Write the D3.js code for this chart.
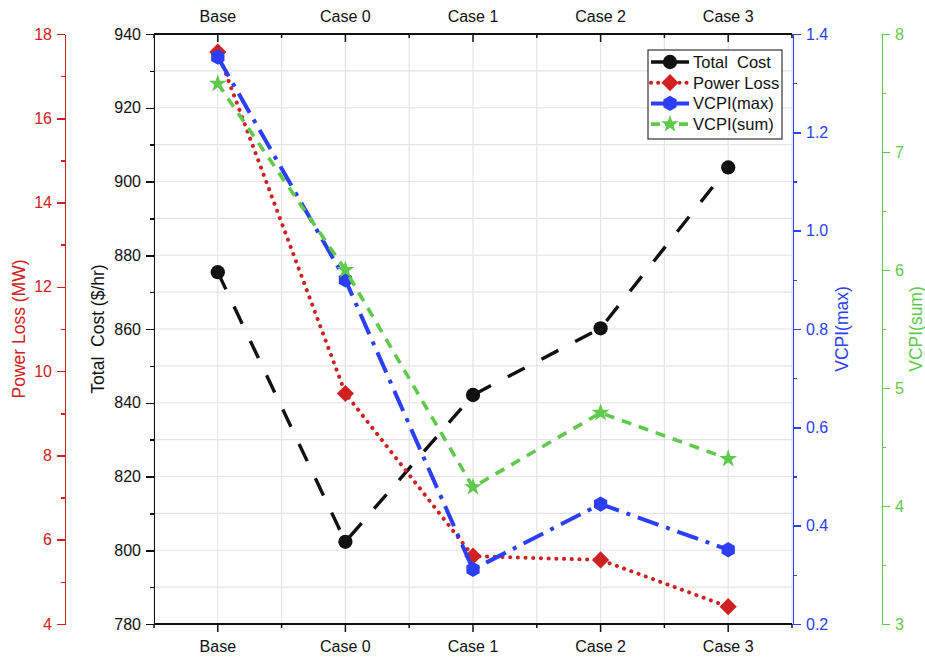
<!DOCTYPE html>
<html>
<head>
<meta charset="utf-8">
<script src="https://cdn.jsdelivr.net/npm/d3@7/dist/d3.min.js"></script>
<style>
  html, body { margin: 0; padding: 0; background: #fff; }
  svg { display: block; font-family: "Liberation Sans", Arial, sans-serif; }
  .axis path, .axis line { shape-rendering: crispEdges; }
</style>
</head>
<body>
<svg id="chart" width="925" height="658"></svg>
<script>
// Scenario labels
const categories = ["Base", "Case 0", "Case 1", "Case 2", "Case 3"];

// Series values per scenario
const totalCost = [875.4, 802.3, 842.1, 860.2, 903.8];   // $/hr
const powerLoss = [17.57, 9.47, 5.61, 5.52, 4.41];       // MW
const vcpiMax   = [1.353, 0.90, 0.311, 0.444, 0.351];
const vcpiSum   = [7.58, 6.0, 4.16, 4.79, 4.40];

// Axis tick values
const costTicks     = [780, 800, 820, 840, 860, 880, 900, 920, 940];
const costMinor     = [790, 810, 830, 850, 870, 890, 910, 930];
const lossTicks     = [4, 6, 8, 10, 12, 14, 16, 18];
const lossMinor     = [5, 7, 9, 11, 13, 15, 17];
const vcpiMaxTicks  = [0.2, 0.4, 0.6, 0.8, 1.0, 1.2, 1.4];
const vcpiMaxMinor  = [0.3, 0.5, 0.7, 0.9, 1.1, 1.3];
const vcpiSumTicks  = [3, 4, 5, 6, 7, 8];
const vcpiSumMinor  = [3.5, 4.5, 5.5, 6.5, 7.5];

const BLACK = "#111111", RED = "#d02121", BLUE = "#2a3ff7", GREEN = "#5fc94c";

const svg = d3.select("#chart");
const L = 154, R = 792, T = 34, B = 624;

const x = d3.scalePoint().domain(categories).range([L, R]).padding(0.5);
const step = x.step();
const yCost = d3.scaleLinear().domain([780, 940]).range([B, T]);
const yLoss = d3.scaleLinear().domain([4, 18]).range([B, T]);
const yVmax = d3.scaleLinear().domain([0.2, 1.4]).range([B, T]);
const yVsum = d3.scaleLinear().domain([3, 8]).range([B, T]);

// Grid: horizontal every 10 $/hr, vertical at categories and between them
const gridX = [];
categories.forEach(c => { gridX.push(x(c) - step / 2); gridX.push(x(c)); });
gridX.push(R);
const grid = svg.append("g").attr("stroke", "#e4e4e4").attr("stroke-width", 1.2);
grid.selectAll(".gh").data(costTicks.concat(costMinor)).join("line")
  .attr("x1", L).attr("x2", R)
  .attr("y1", d => yCost(d)).attr("y2", d => yCost(d));
grid.selectAll(".gv").data(gridX).join("line")
  .attr("x1", d => d).attr("x2", d => d)
  .attr("y1", T).attr("y2", B);

// Helper: draw an axis with major (labelled) and minor ticks
function drawAxis(gen, scale, major, minor, tx, ty, color, majorLen, minorLen, pad, fmt) {
  const gMinor = svg.append("g").attr("class", "axis").attr("transform", `translate(${tx},${ty})`)
    .call(gen(scale).tickValues(minor).tickSize(minorLen).tickFormat(""));
  gMinor.select(".domain").remove();
  gMinor.selectAll("line").attr("stroke", color).attr("stroke-width", 1.5);
  const g = svg.append("g").attr("class", "axis").attr("transform", `translate(${tx},${ty})`)
    .call(gen(scale).tickValues(major).tickSizeInner(majorLen).tickSizeOuter(0).tickPadding(pad)
      .tickFormat(fmt || (d => d)));
  g.select(".domain").attr("stroke", color).attr("stroke-width", 1.8);
  g.selectAll("line").attr("stroke", color).attr("stroke-width", 1.5);
  g.selectAll("text").attr("fill", color).attr("font-size", 16)
    .attr("font-family", "'Liberation Sans', Arial, sans-serif");
  return g;
}

// Category axes (bottom and top); ticks hang downward on both
const xMinor = categories.map(c => x(c) - step / 2).concat([R]);
function catAxisLines(yPos, dir) {
  const g = svg.append("g");
  g.append("line").attr("x1", L).attr("x2", R).attr("y1", yPos).attr("y2", yPos)
    .attr("stroke", BLACK).attr("stroke-width", 1.8);
  g.selectAll(".mj").data(categories).join("line")
    .attr("x1", d => x(d)).attr("x2", d => x(d))
    .attr("y1", yPos).attr("y2", yPos + 8 * dir)
    .attr("stroke", BLACK).attr("stroke-width", 1.5);
  g.selectAll(".mn").data(xMinor).join("line")
    .attr("x1", d => d).attr("x2", d => d)
    .attr("y1", yPos).attr("y2", yPos + 4 * dir)
    .attr("stroke", BLACK).attr("stroke-width", 1.5);
}
catAxisLines(B, 1);
catAxisLines(T, 1);
svg.append("g").selectAll("text").data(categories).join("text")
  .attr("x", d => x(d)).attr("y", 652).attr("text-anchor", "middle")
  .attr("font-size", 16).attr("fill", BLACK).text(d => d);
svg.append("g").selectAll("text").data(categories).join("text")
  .attr("x", d => x(d)).attr("y", 22).attr("text-anchor", "middle")
  .attr("font-size", 16).attr("fill", BLACK).text(d => d);

// Value axes
drawAxis(d3.axisLeft, yCost, costTicks, costMinor, L, 0, BLACK, 8, 4, 5);
drawAxis(d3.axisLeft, yLoss, lossTicks, lossMinor, 65, 0, RED, 8, 4, 5);
drawAxis(d3.axisRight, yVmax, vcpiMaxTicks, vcpiMaxMinor, R + 1, 0, BLUE, 8, 4, 5, d3.format(".1f"));
drawAxis(d3.axisRight, yVsum, vcpiSumTicks, vcpiSumMinor, 882, 0, GREEN, 8, 4, 5);

// Axis titles
function vTitle(txt, xPos, color) {
  svg.append("text").attr("transform", `translate(${xPos},${(T + B) / 2}) rotate(-90)`)
    .attr("text-anchor", "middle").attr("font-size", 17.5).attr("fill", color)
    .style("white-space", "pre").text(txt);
}
vTitle("Power Loss (MW)", 25, RED);
vTitle("Total  Cost ($/hr)", 104, BLACK);
vTitle("VCPI(max)", 848, BLUE);
vTitle("VCPI(sum)", 922, GREEN);

// Marker shapes
const diamond = { draw(ctx, size) { const r = Math.sqrt(size) / 1.3; ctx.moveTo(0, -r); ctx.lineTo(r, 0); ctx.lineTo(0, r); ctx.lineTo(-r, 0); ctx.closePath(); } };
const hexagon = { draw(ctx, size) { const r = Math.sqrt(size) / 1.6; for (let i = 0; i < 6; i++) { const a = Math.PI / 3 * i - Math.PI / 2; const px = r * Math.cos(a), py = r * Math.sin(a); i ? ctx.lineTo(px, py) : ctx.moveTo(px, py); } ctx.closePath(); } };

const series = [
  { name: "Total  Cost", values: totalCost, y: yCost, color: BLACK, dash: "19,19", cap: "butt", width: 3.4, symbol: d3.symbolCircle, size: 160 },
  { name: "Power Loss", values: powerLoss, y: yLoss, color: RED, dash: "0.1,7.6", cap: "round", width: 4, symbol: diamond, size: 125 },
  { name: "VCPI(max)", values: vcpiMax, y: yVmax, color: BLUE, dash: "22,8,4,8", cap: "butt", width: 4, symbol: hexagon, size: 150 },
  { name: "VCPI(sum)", values: vcpiSum, y: yVsum, color: GREEN, dash: "10,8", cap: "butt", width: 3.6, symbol: d3.symbolStar, size: 100 }
];

const line = d3.line();
series.forEach(s => {
  const pts = s.values.map((v, i) => [x(categories[i]), s.y(v)]);
  svg.append("path").attr("d", line(pts)).attr("fill", "none")
    .attr("stroke", s.color).attr("stroke-width", s.width)
    .attr("stroke-dasharray", s.dash).attr("stroke-linecap", s.cap);
  svg.append("g").selectAll("path").data(pts).join("path")
    .attr("transform", d => `translate(${d[0]},${d[1]})`)
    .attr("d", d3.symbol(s.symbol, s.size)).attr("fill", s.color);
});

// Legend
const lg = svg.append("g");
lg.append("rect").attr("x", 648).attr("y", 50).attr("width", 134).attr("height", 89)
  .attr("fill", "#fff").attr("stroke", "#333").attr("stroke-width", 1.2);
const legendDash = ["", "0.1,7", "", "9,5"];
series.forEach((s, i) => {
  const yy = 62 + i * 20.7;
  lg.append("line").attr("x1", 651).attr("x2", 689).attr("y1", yy).attr("y2", yy)
    .attr("stroke", s.color).attr("stroke-width", s.width)
    .attr("stroke-dasharray", legendDash[i] || null).attr("stroke-linecap", s.cap);
  lg.append("path").attr("transform", `translate(670,${yy})`)
    .attr("d", d3.symbol(s.symbol, s.size)).attr("fill", s.color);
  lg.append("text").attr("x", 693).attr("y", yy + 6).attr("font-size", 16.5)
    .attr("fill", BLACK).style("white-space", "pre").text(s.name);
});
</script>
</body>
</html>
